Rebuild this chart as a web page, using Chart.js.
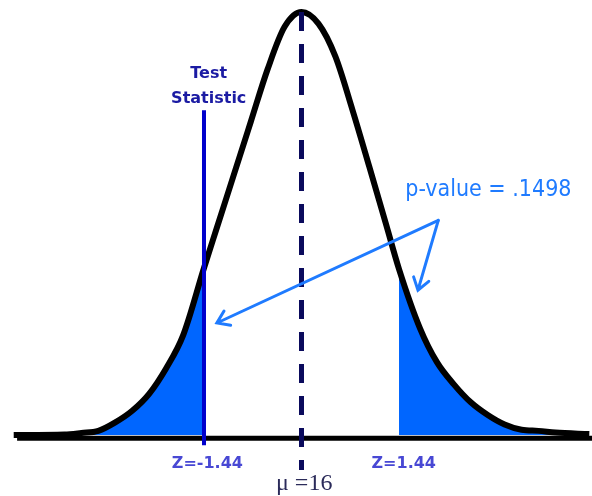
<!DOCTYPE html>
<html>
<head>
<meta charset="utf-8">
<script src="https://cdn.jsdelivr.net/npm/chart.js@4/dist/chart.umd.min.js"></script>
<style>
  html, body { margin: 0; padding: 0; background: #fff; }
  #wrap { width: 592px; height: 496px; }
</style>
</head>
<body>
<div id="wrap"><canvas id="curva"></canvas></div>
<script>
// curve (z units, height as density)
var curveZ = [-4.25, -3.5, -3.25, -3.0, -2.75, -2.5, -2.25, -2.0, -1.75, -1.44, -1.25, -1.0, -0.75, -0.5, -0.25, 0, 0.25, 0.5, 0.75, 1.0, 1.25, 1.44, 1.75, 2.0, 2.25, 2.5, 2.75, 3.0, 3.25, 3.5, 3.75, 4.25];
var curveDensity = [0, 0.0005, 0.002, 0.004, 0.012, 0.023, 0.039, 0.063, 0.094, 0.158, 0.196, 0.246, 0.296, 0.346, 0.386, 0.4, 0.389, 0.358, 0.308, 0.254, 0.199, 0.157, 0.101, 0.069, 0.048, 0.031, 0.019, 0.010, 0.005, 0.004, 0.0024, 0.001];
var testStat = -1.44;
var critical = 1.44;
var mu = 16;
var pValue = ".1498";

function points(lo, hi) {
    var pts = [];
    for (var i = 0; i < curveZ.length; i++) {
        if (curveZ[i] >= lo && curveZ[i] <= hi) pts.push({x: curveZ[i], y: curveDensity[i]});
    }
    return pts;
}

// texts + arrows
var notas = {
    id: 'notas',
    afterDraw: function (chart) {
        var c = chart.ctx, sx = chart.scales.x, sy = chart.scales.y;
        var X = function (v) { return sx.getPixelForValue(v); };
        var Y = function (v) { return sy.getPixelForValue(v); };
        c.save();
        c.textAlign = 'center';
        c.textBaseline = 'middle';

        c.fillStyle = '#1b1ba3';
        c.font = 'bold 16px "DejaVu Sans"';
        c.fillText('Test', X(-1.37), Y(0.342));
        c.fillText('Statistic', X(-1.37), Y(0.318));

        c.fillStyle = '#1f7bff';
        c.font = '23px "DejaVu Sans Condensed", "DejaVu Sans"';
        c.fillText('p-value = ' + pValue, X(2.76), Y(0.232));

        c.fillStyle = '#4848d4';
        c.font = 'bold 16px "DejaVu Sans"';
        c.fillText('Z=' + testStat.toFixed(2), X(-1.39), Y(-0.027));
        c.fillText('Z=' + critical.toFixed(2), X(1.51), Y(-0.027));

        c.fillStyle = '#2b2b5a';
        c.font = '24px "Liberation Serif"';
        c.fillText('\u03bc =' + mu, X(0.04), Y(-0.046));

        // arrows
        c.strokeStyle = '#1f7bff';
        c.lineWidth = 3;
        c.lineCap = 'round';
        var sxp = X(2.02), syp = Y(0.203);
        [[-1.25, 0.106], [1.72, 0.137]].forEach(function (t) {
            var tx = X(t[0]), ty = Y(t[1]);
            var ang = Math.atan2(ty - syp, tx - sxp);
            c.beginPath();
            c.moveTo(sxp, syp);
            c.lineTo(tx, ty);
            c.moveTo(tx - 14 * Math.cos(ang - 0.6), ty - 14 * Math.sin(ang - 0.6));
            c.lineTo(tx, ty);
            c.lineTo(tx - 14 * Math.cos(ang + 0.6), ty - 14 * Math.sin(ang + 0.6));
            c.stroke();
        });
        c.restore();
    }
};

var ctx = document.getElementById('curva').getContext('2d');
var chart = new Chart(ctx, {
    type: 'line',
    data: {
        datasets: [
            {   // mu, dashed
                data: [{x: 0, y: 0.4}, {x: 0, y: -0.033}],
                borderColor: '#0a0a5c',
                borderWidth: 5,
                borderDash: [19, 13],
                pointRadius: 0,
                clip: false
            },
            {   // test statistic
                data: [{x: testStat, y: 0.307}, {x: testStat, y: -0.0095}],
                borderColor: '#0000cc',
                borderWidth: 4,
                pointRadius: 0,
                clip: false
            },
            {   // curve
                data: points(-10, 10),
                borderColor: '#000',
                borderWidth: 6,
                cubicInterpolationMode: 'monotone',
                pointRadius: 0,
                clip: false
            },
            {   // baseline
                data: [{x: -4.2, y: -0.003}, {x: 4.29, y: -0.003}],
                borderColor: '#000',
                borderWidth: 5,
                pointRadius: 0,
                clip: false
            },
            {   // left tail
                data: points(-10, testStat),
                borderWidth: 0,
                backgroundColor: '#0066ff',
                fill: 'origin',
                cubicInterpolationMode: 'monotone',
                pointRadius: 0
            },
            {   // right tail
                data: points(critical, 10),
                borderWidth: 0,
                backgroundColor: '#0066ff',
                fill: 'origin',
                cubicInterpolationMode: 'monotone',
                pointRadius: 0
            }
        ]
    },
    options: {
        responsive: true,
        maintainAspectRatio: false,
        animation: false,
        layout: { padding: { top: 12, bottom: 8, left: 11, right: 0 } },
        plugins: { legend: { display: false }, tooltip: { enabled: false } },
        scales: {
            x: { type: 'linear', min: -4.29, max: 4.29, display: false },
            y: { min: -0.05, max: 0.4, display: false }
        }
    },
    plugins: [notas]
});
</script>
</body>
</html>
